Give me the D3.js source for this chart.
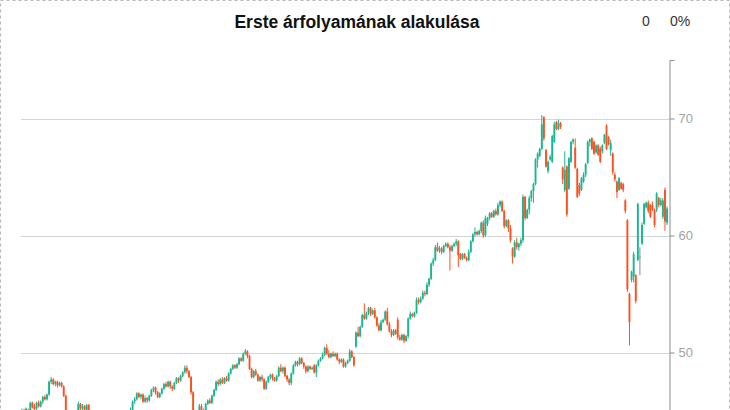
<!DOCTYPE html>
<html>
<head>
<meta charset="utf-8">
<script src="https://cdn.jsdelivr.net/npm/d3@7/dist/d3.min.js"></script>
<style>
  html, body { margin: 0; padding: 0; background: #fff; overflow: hidden; }
  svg { display: block; font-family: "Liberation Sans", Arial, sans-serif; }
</style>
</head>
<body>
<svg id="chart"></svg>
<script>
const title = "Erste árfolyamának alakulása";
const changeLabels = ["0", "0%"];
const yTicks = [50, 60, 70];

//Daily candles (10 per line)
const opens = [
  44.6,45.0,44.8,45.1,44.9,45.7,45.4,45.2,45.7,45.4,
  45.8,46.2,46.0,46.4,47.5,47.7,47.3,47.5,47.2,47.4,
  47.1,46.3,45.0,44.2,44.5,44.1,44.3,44.8,45.6,45.2,
  45.4,45.1,45.5,45.0,44.5,44.2,44.4,43.9,44.1,43.8,
  44.0,43.6,43.8,43.3,43.5,43.9,43.6,43.4,43.8,44.2,
  44.0,44.4,44.8,45.1,45.8,46.0,46.5,46.2,46.4,45.8,
  46.1,45.9,46.3,46.8,47.0,46.6,46.2,46.5,46.9,47.3,
  47.1,47.5,47.1,46.9,47.4,47.8,47.6,48.0,48.3,48.7,
  48.4,47.9,46.6,45.0,44.3,44.6,45.4,45.1,44.9,45.6,
  45.9,45.7,46.3,46.8,47.5,47.3,47.7,47.4,47.8,47.6,
  48.2,48.6,48.9,48.7,49.0,49.5,49.3,49.9,50.1,49.7,
  48.6,47.9,48.4,48.1,47.6,47.9,47.7,46.9,47.5,47.9,
  48.1,47.8,47.6,48.0,48.7,48.4,48.7,48.0,47.7,47.4,
  48.2,48.9,49.2,49.0,49.5,49.1,48.8,48.4,48.8,48.6,
  48.9,48.3,48.9,49.3,49.5,49.8,50.4,49.9,49.6,49.9,
  49.7,49.9,49.4,49.2,49.4,48.8,49.1,49.3,50.1,49.6,
  50.5,51.7,51.4,52.2,53.2,52.9,53.4,53.8,53.3,53.6,
  53.0,52.3,51.9,52.6,52.8,53.5,52.4,51.8,51.5,51.9,
  52.8,51.3,51.1,51.5,51.0,51.4,52.9,53.3,53.1,53.4,
  54.5,54.3,54.6,55.1,55.0,55.8,56.3,57.6,57.9,59.0,
  58.7,58.9,58.6,59.1,59.3,59.0,58.7,59.1,59.3,59.5,
  58.4,58.0,58.4,58.1,57.9,58.6,59.5,60.1,60.3,60.1,
  60.4,61.1,60.0,61.0,61.5,61.9,61.6,62.1,61.8,62.6,
  62.9,62.1,60.8,61.3,60.6,58.9,58.2,59.4,59.0,59.3,
  59.6,63.3,61.5,62.2,63.2,63.8,64.4,66.5,66.8,67.4,
  70.1,67.3,65.5,66.5,66.3,68.0,69.7,69.1,69.6,65.8,
  63.9,65.9,64.0,66.3,68.0,67.5,65.7,64.3,63.9,64.6,
  65.2,66.2,68.0,68.3,68.0,67.1,67.7,67.4,67.2,67.9,
  69.4,68.4,67.3,67.0,65.2,64.6,63.9,64.5,64.4,63.0,
  61.3,55.0,56.2,56.5,56.6,57.9,58.2,59.3,61.0,62.4,
  62.8,62.6,62.6,62.2,62.2,63.2,62.6,61.6,63.9,61.1
];
const highs = [
  45.2,45.2,45.3,45.2,45.8,45.8,45.6,45.8,45.9,45.9,
  46.3,46.4,46.5,47.6,47.9,47.8,47.6,47.6,47.5,47.5,
  47.2,46.4,45.1,44.7,44.6,44.5,44.9,45.8,45.7,45.6,
  45.5,45.6,45.6,45.1,44.6,44.6,44.5,44.3,44.2,44.2,
  44.1,44.0,43.9,43.7,44.0,44.0,43.8,43.9,44.3,44.4,
  44.5,44.9,45.3,45.9,46.2,46.6,46.6,46.5,46.5,46.3,
  46.2,46.4,46.9,47.1,47.1,46.7,46.6,47.0,47.4,47.5,
  47.6,47.6,47.2,47.5,47.9,47.9,48.1,48.4,48.9,48.9,
  48.5,48.0,46.7,45.1,44.8,45.6,45.6,45.2,45.7,46.0,
  46.1,46.4,46.9,47.6,47.7,47.8,47.9,47.9,48.0,48.3,
  48.7,49.0,49.0,49.1,49.6,49.6,50.0,50.3,50.2,49.8,
  48.7,48.5,48.6,48.2,48.0,48.1,47.8,47.6,48.0,48.2,
  48.2,47.9,48.1,48.8,49.0,48.8,48.8,48.1,47.8,48.3,
  49.0,49.3,49.3,49.6,49.6,49.2,48.9,48.9,48.9,48.8,
  49.0,49.0,49.4,49.6,50.0,50.5,50.7,50.2,50.0,50.1,
  50.0,50.0,49.5,49.5,49.5,49.2,49.4,50.3,50.2,49.7,
  51.8,52.2,52.3,53.3,54.2,53.5,53.9,53.9,53.7,53.8,
  53.1,52.5,52.8,52.9,53.6,53.8,52.6,52.0,52.0,52.0,
  53.0,51.5,51.6,51.6,51.5,53.0,53.5,53.4,53.5,54.7,
  54.7,54.8,55.3,55.3,56.0,56.4,57.7,58.1,59.2,59.4,
  59.1,59.0,59.2,59.4,59.4,59.2,59.2,59.4,59.7,59.6,
  58.5,58.5,58.5,58.2,58.8,59.6,60.2,60.7,60.4,60.5,
  61.2,61.3,61.7,61.6,62.0,62.0,62.2,62.3,62.8,63.0,
  63.0,62.2,61.4,61.4,60.9,59.0,59.6,59.8,59.4,59.8,
  63.5,63.4,62.3,63.4,63.9,64.5,66.6,67.1,67.5,70.3,
  70.2,67.4,66.4,66.9,68.6,69.7,69.8,69.9,69.7,65.9,
  67.2,66.0,66.7,68.1,68.3,68.3,65.8,64.5,65.0,65.4,
  66.2,68.1,68.3,68.4,68.1,67.8,67.8,67.6,67.8,68.7,
  69.5,68.5,68.2,67.1,65.4,64.7,65.0,64.6,64.5,63.1,
  61.4,55.1,57.0,58.6,56.7,62.8,59.0,61.1,62.8,62.9,
  63.0,62.7,62.9,62.3,63.7,63.3,63.2,63.2,64.1,62.5
];
const lows = [
  44.4,44.6,44.7,44.7,44.8,45.2,45.0,45.1,45.3,45.3,
  45.6,45.9,45.9,46.3,47.3,47.2,47.1,47.0,47.1,47.0,
  46.2,44.8,44.0,44.0,43.9,43.9,44.2,44.7,45.0,45.1,
  44.9,45.0,44.9,44.3,44.0,44.0,43.7,43.8,43.6,43.7,
  43.4,43.5,43.1,43.2,43.4,43.5,43.2,43.3,43.7,43.8,
  43.9,44.3,44.7,45.0,45.6,45.9,46.1,46.0,45.7,45.7,
  45.7,45.8,46.2,46.6,46.4,46.1,46.1,46.4,46.8,47.0,
  47.0,46.9,46.7,46.8,47.3,47.4,47.5,47.9,48.2,48.2,
  47.8,46.4,44.8,44.1,44.2,44.5,44.9,44.7,44.8,45.5,
  45.6,45.6,46.2,46.7,47.1,47.2,47.3,47.3,47.5,47.5,
  48.1,48.5,48.6,48.6,48.9,49.2,49.2,49.8,49.5,48.5,
  47.8,47.8,48.0,47.5,47.5,47.5,46.8,46.8,47.4,47.7,
  47.6,47.5,47.5,47.9,48.3,48.2,47.9,47.5,47.2,47.2,
  48.1,48.8,48.8,48.9,49.0,48.6,48.2,48.3,48.5,48.5,
  48.2,47.9,48.8,49.2,49.4,49.7,49.8,49.5,49.5,49.6,
  49.6,49.3,49.0,49.1,48.7,48.7,49.0,49.2,49.5,48.8,
  50.4,51.3,51.3,52.1,52.8,52.8,53.2,53.1,53.2,52.9,
  52.2,51.8,51.8,52.5,52.7,52.3,51.7,51.3,51.4,51.5,
  51.1,51.0,51.0,50.8,50.9,51.2,52.8,53.0,53.0,53.3,
  54.1,54.2,54.5,54.8,54.9,55.6,56.2,57.4,57.8,58.6,
  58.5,58.4,58.5,59.0,58.9,57.0,58.6,59.0,59.1,57.3,
  57.9,57.9,58.0,57.8,57.8,58.5,59.4,59.9,60.0,60.0,
  60.2,59.8,59.9,60.8,61.3,61.5,61.5,61.7,61.7,62.4,
  62.0,60.6,60.7,60.3,59.4,57.6,58.1,58.8,58.7,59.1,
  59.4,61.3,61.4,61.8,62.9,62.8,64.3,65.8,66.7,67.3,
  68.1,65.8,65.3,66.4,66.2,67.9,69.0,69.0,69.1,64.4,
  63.7,61.6,63.9,66.2,67.8,65.7,63.2,63.4,63.8,64.5,
  65.0,66.1,67.6,67.3,66.9,67.0,66.8,66.2,67.0,67.8,
  67.3,67.7,66.8,65.2,64.6,63.2,63.8,63.9,63.7,61.9,
  55.2,50.6,56.0,56.0,54.2,57.8,56.6,59.2,60.9,62.3,
  61.9,61.5,62.1,60.7,62.0,62.4,62.5,61.4,60.4,60.9
];
const closes = [
  45.0,44.8,45.2,44.9,45.7,45.3,45.2,45.7,45.4,45.8,
  46.2,46.0,46.4,47.5,47.7,47.3,47.5,47.2,47.4,47.1,
  46.3,45.0,44.2,44.5,44.1,44.3,44.8,45.6,45.2,45.4,
  45.1,45.5,45.0,44.5,44.2,44.4,43.9,44.1,43.8,44.0,
  43.6,43.8,43.3,43.5,43.9,43.6,43.4,43.8,44.2,44.0,
  44.4,44.8,45.1,45.8,46.0,46.5,46.2,46.4,45.8,46.1,
  45.9,46.3,46.8,47.0,46.6,46.2,46.5,46.9,47.3,47.1,
  47.5,47.1,46.9,47.4,47.8,47.6,48.0,48.3,48.7,48.4,
  47.9,46.6,45.0,44.3,44.6,45.4,45.1,44.9,45.6,45.9,
  45.7,46.3,46.8,47.5,47.3,47.7,47.4,47.8,47.6,48.2,
  48.6,48.9,48.7,49.0,49.5,49.3,49.9,50.1,49.7,48.6,
  47.9,48.4,48.1,47.6,47.9,47.7,46.9,47.5,47.9,48.1,
  47.8,47.6,48.0,48.7,48.4,48.7,48.0,47.7,47.4,48.2,
  48.9,49.2,49.0,49.5,49.1,48.8,48.4,48.8,48.6,48.7,
  48.3,48.9,49.3,49.5,49.8,50.4,49.9,49.6,49.9,49.7,
  49.9,49.4,49.2,49.4,48.8,49.1,49.3,50.1,49.6,48.9,
  51.7,51.4,52.2,53.2,52.9,53.4,53.8,53.3,53.6,53.0,
  52.3,51.9,52.6,52.8,53.5,52.4,51.8,51.5,51.9,51.6,
  51.3,51.1,51.5,51.0,51.4,52.9,53.3,53.1,53.4,54.5,
  54.3,54.6,55.1,55.0,55.8,56.3,57.6,57.9,59.0,58.7,
  58.9,58.6,59.1,59.3,59.0,58.7,59.1,59.3,59.5,58.3,
  58.0,58.4,58.1,57.9,58.6,59.5,60.1,60.3,60.1,60.4,
  61.1,60.0,61.5,61.5,61.9,61.6,62.1,61.8,62.6,62.9,
  62.1,60.8,61.3,60.6,59.6,58.2,59.4,59.0,59.3,59.6,
  63.3,61.5,62.2,63.2,63.8,64.4,66.5,67.0,67.4,69.5,
  68.3,65.9,66.3,66.7,68.5,69.5,69.1,69.6,69.3,64.8,
  65.6,61.8,66.6,68.0,68.2,65.8,63.3,63.6,64.9,65.2,
  66.1,68.0,68.2,67.4,67.0,67.7,66.9,66.3,67.7,68.6,
  67.4,67.8,67.9,65.4,64.8,63.7,64.9,64.0,63.9,62.1,
  55.4,52.6,56.9,58.4,54.4,62.7,58.2,60.9,62.7,62.8,
  62.1,61.6,62.2,60.9,63.6,62.6,63.0,63.0,61.2,62.3
];

const width = 730, height = 410;
const upColor = "#17b791", downColor = "#fd5020", flatColor = "#8a8a8a";

const svg = d3.select("#chart")
              .attr("width", width)
              .attr("height", height);

//Dashed frame round the whole widget (bottom edge falls outside the picture)
svg.append("rect")
   .attr("x", 0.5).attr("y", 0.5)
   .attr("width", width - 1).attr("height", height + 100)
   .attr("fill", "none")
   .attr("stroke", "#b8b8b8")
   .attr("stroke-dasharray", "3,3");

const plot = {left: 21, right: 669, top: 60};

const x = d3.scaleBand()
            .domain(d3.range(closes.length))
            .range([plot.left, plot.right - 1])
            .paddingInner(0.1);

//Plot continues below the visible window, so the scale is taller than the svg
const y = d3.scaleLinear()
            .domain([40, 75])
            .range([plot.top + 35 * 11.7, plot.top]);

//Grid lines
svg.append("g")
   .selectAll("line")
   .data(yTicks)
   .enter().append("line")
   .attr("x1", plot.left).attr("x2", plot.right)
   .attr("y1", d => Math.round(y(d)) + 0.5)
   .attr("y2", d => Math.round(y(d)) + 0.5)
   .attr("stroke", "#d6d6d6");

//Candles
const candleColor = i => closes[i] > opens[i] ? upColor : (closes[i] < opens[i] ? downColor : flatColor);

const candles = svg.append("g")
                   .selectAll("g")
                   .data(d3.range(closes.length))
                   .enter().append("g");

candles.append("line")
       .attr("x1", i => x(i) + x.bandwidth() / 2)
       .attr("x2", i => x(i) + x.bandwidth() / 2)
       .attr("y1", i => y(highs[i]))
       .attr("y2", i => y(lows[i]))
       .attr("stroke", candleColor)
       .attr("stroke-width", 1);

candles.append("rect")
       .attr("x", i => x(i))
       .attr("width", x.bandwidth())
       .attr("y", i => y(Math.max(opens[i], closes[i])))
       .attr("height", i => Math.max(1, Math.abs(y(opens[i]) - y(closes[i]))))
       .attr("fill", candleColor);

//Right hand axis
const axis = svg.append("g")
                .attr("transform", "translate(" + (plot.right + 0.5) + ",0)")
                .call(d3.axisRight(y).tickValues(yTicks).tickSize(5).tickPadding(4));

axis.select(".domain").attr("stroke", "#8c8c8c");
axis.selectAll(".tick line").attr("stroke", "#8c8c8c");
axis.selectAll(".tick text")
    .attr("fill", "#a3a3a3")
    .style("font-size", "13px")
    .style("font-family", "'Liberation Sans', Arial, sans-serif");

//Title and change readout
svg.append("text")
   .attr("x", 357).attr("y", 28)
   .attr("text-anchor", "middle")
   .style("font-size", "17.5px")
   .style("font-weight", "bold")
   .attr("fill", "#111")
   .text(title);

svg.selectAll(".change")
   .data(changeLabels)
   .enter().append("text")
   .attr("class", "change")
   .attr("x", (d, i) => [646, 680][i])
   .attr("y", 26)
   .attr("text-anchor", "middle")
   .style("font-size", "14px")
   .attr("fill", "#333")
   .text(d => d);
</script>
</body>
</html>
